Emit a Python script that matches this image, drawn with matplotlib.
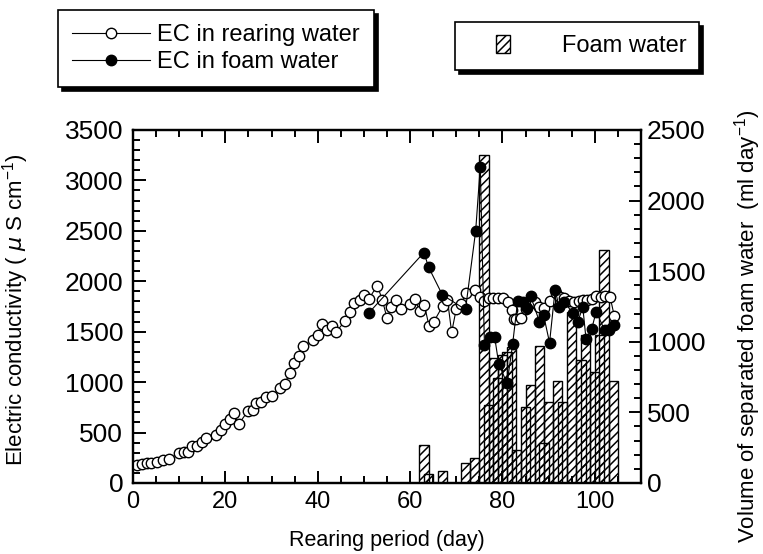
import matplotlib.pyplot as plt
from matplotlib.ticker import MultipleLocator
from matplotlib.patches import Rectangle
from matplotlib.legend_handler import HandlerPatch

plt.rcParams['font.family'] = ['Liberation Sans', 'DejaVu Sans']
plt.rcParams['hatch.linewidth'] = 1.1
plt.rcParams['mathtext.fontset'] = 'custom'
plt.rcParams['mathtext.rm'] = 'Liberation Sans'

# EC in rearing water (open circles)
rear_day = [0.8, 1.9, 3, 4, 5.3, 6.6, 7.8, 10, 11, 12, 12.7, 13.9, 14.9, 15.9,
            17.9, 19, 19.9, 21, 21.8, 22.9, 24.9, 26, 26.7, 27.8, 28.8, 30,
            31.9, 32.9, 33.9, 34.8, 35.9, 36.8, 38.9, 40.1, 41, 42, 43, 44,
            46, 46.9, 47.9, 49.1, 50, 51, 52.9, 54, 55, 55.9, 57, 58.1, 60,
            61, 62.1, 63.1, 64.1, 65.1, 67.1, 68.1, 69, 70, 71.1, 72, 74.1,
            75.1, 76.1, 77, 78, 79.1, 80.1, 81.1, 82, 82.5, 83, 84, 85, 86.2,
            87, 88, 88.9, 90.2, 91.6, 92.5, 93.3, 94.4, 95.4, 96.5, 97.5, 98.4,
            99.4, 100.3, 101.3, 102.3, 103.3, 104.2]
rear_ec = [178, 188, 195, 201, 211, 228, 241, 294, 304, 310, 370, 370, 410, 443,
           476, 525, 585, 631, 691, 585, 714, 724, 796, 806, 850, 863,
           939, 982, 1094, 1187, 1259, 1355, 1415, 1470, 1573, 1517, 1556, 1500,
           1609, 1695, 1780, 1815, 1864, 1822, 1956, 1815, 1633, 1740, 1815, 1722, 1772,
           1824, 1705, 1765, 1556, 1596, 1758, 1815, 1494, 1725, 1775, 1881, 1914,
           1840, 1800, 1838, 1838, 1838, 1830, 1798, 1715, 1626, 1626, 1633, 1720, 1782,
           1790, 1748, 1732, 1808, 1881, 1840, 1831, 1800, 1792, 1808, 1815, 1815,
           1821, 1854, 1841, 1850, 1847, 1659]

# EC in foam water (filled circles)
foam_day = [51, 63, 64, 67, 72, 74.2, 75.2, 76.1, 77.2, 78.3, 79.2, 81, 82.2,
            83.3, 84.4, 85.3, 86.1, 88, 88.9, 90.2, 91.4, 92.3, 93.4, 95.2, 96.3,
            97.4, 98.1, 99.3, 100.3, 102.1, 103.1, 104.2]
foam_ec = [1683, 2285, 2140, 1864, 1720, 2499, 3136, 1368, 1450, 1450, 1180, 988, 1375,
           1808, 1798, 1732, 1854, 1600, 1666, 1391, 1914, 1742, 1798, 1683, 1600,
           1742, 1425, 1524, 1699, 1517, 1517, 1567]

# volume of separated foam water (bars, right axis)
bar_day = [63, 64, 67, 72, 74, 76, 77, 78, 79, 80, 81, 82, 83, 85, 86, 88, 89,
           90, 92, 93, 95, 97, 98, 100, 101, 102, 104]
bar_vol = [270, 64, 85, 142, 177, 2323, 552, 885, 744, 906, 930, 963, 234, 538,
           694, 970, 280, 574, 722, 574, 1211, 871, 1050, 786, 1048, 1650, 722]


def small_box(legend, orig_handle, xdescent, ydescent, width, height, fontsize):
    # small hatched square sitting at the right end of the handle area
    w = 0.6 * fontsize
    h = 0.75 * fontsize
    return Rectangle((width - xdescent - w, -ydescent + (height - h) / 2), w, h)


fig = plt.figure(figsize=(7.63, 5.54), dpi=100)
ax = fig.add_axes([0.1743, 0.1282, 0.6658, 0.6372])
ax2 = ax.twinx()

bars = ax2.bar(bar_day, bar_vol, width=2.0, facecolor='none', edgecolor='k',
               hatch='////', linewidth=1.0)

l1, = ax.plot(rear_day, rear_ec, '-o', color='k', lw=0.8, ms=7.5,
              mfc='white', mec='k', mew=1.0, label='EC in rearing water')
l2, = ax.plot(foam_day, foam_ec, '-o', color='k', lw=0.8, ms=7.5,
              mfc='k', mec='k', mew=1.0, label='EC in foam water')
ax.set_zorder(ax2.get_zorder() + 1)
ax.patch.set_visible(False)

ax.set_xlim(0, 110)
ax.set_ylim(0, 3500)
ax2.set_ylim(0, 2500)
ax.xaxis.set_major_locator(MultipleLocator(20))
ax.xaxis.set_minor_locator(MultipleLocator(5))
ax.yaxis.set_major_locator(MultipleLocator(500))
ax.yaxis.set_minor_locator(MultipleLocator(100))
ax2.yaxis.set_major_locator(MultipleLocator(500))
ax2.yaxis.set_minor_locator(MultipleLocator(100))

ax.tick_params(which='both', direction='in', top=True, right=False, width=1.4)
ax.tick_params(which='major', length=9)
ax.tick_params(which='minor', length=5)
ax.tick_params(axis='x', labelsize=17, pad=6)
ax.tick_params(axis='y', labelsize=19, pad=7)
ax2.tick_params(which='both', direction='in', width=1.4)
ax2.tick_params(which='major', length=9, labelsize=19, pad=4)
ax2.tick_params(which='minor', length=5)
for a in (ax, ax2):
    for s in a.spines.values():
        s.set_linewidth(1.6)

ax.set_xlabel('Rearing period (day)', fontsize=15.5)
ax.set_ylabel(r'Electric conductivity ( $\mu$ S cm$^{-1}$)', fontsize=16)
ax2.set_ylabel(r'Volume of separated foam water  (ml day$^{-1}$)', fontsize=16)
ax.xaxis.set_label_coords(0.5, -0.133)
ax.yaxis.set_label_coords(-0.2, 0.49)
ax2.yaxis.set_label_coords(1.18, 0.445)

shadow = {'ox': 3, 'oy': -3, 'color': 'k', 'alpha': 1}
leg1 = fig.legend(handles=[l1, l2], loc='upper left',
                  bbox_to_anchor=(0.076, 0.982), fontsize=17, frameon=True,
                  fancybox=False, shadow=shadow, edgecolor='k',
                  handlelength=3.3, handletextpad=0.3, borderpad=0.6,
                  labelspacing=0.2, borderaxespad=0)
leg1.get_frame().set_linewidth(1.2)
leg2 = fig.legend(handles=[bars.patches[0]], labels=['Foam water'],
                  loc='upper left',
                  bbox_to_anchor=(0.596, 0.96), fontsize=17, frameon=True,
                  fancybox=False, shadow=shadow, edgecolor='k',
                  handlelength=1.78, handletextpad=2.2, borderpad=0.55,
                  borderaxespad=0,
                  handler_map={Rectangle: HandlerPatch(patch_func=small_box)})
leg2.get_frame().set_linewidth(1.2)

fig.savefig('out.png', dpi=100)
